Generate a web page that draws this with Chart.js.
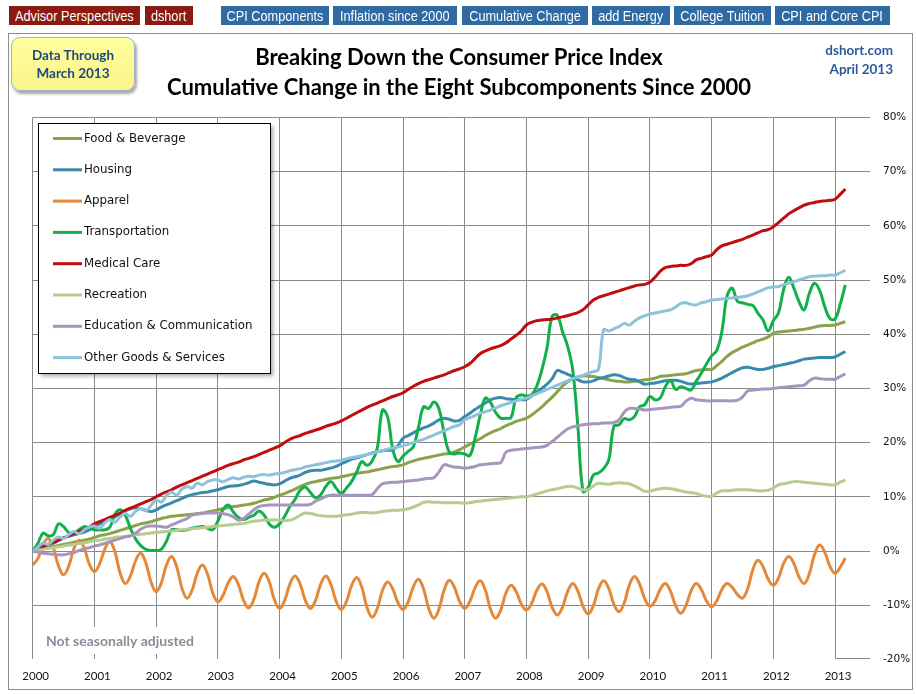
<!DOCTYPE html>
<html>
<head>
<meta charset="utf-8">
<script src="https://cdn.jsdelivr.net/npm/chart.js@4.4.1/dist/chart.umd.min.js"></script>
<style>
  body { margin: 0; background: #fff; }
  #wrap { position: relative; width: 916px; height: 694px; background: #fff; overflow: hidden; }
  #wrap canvas { position: absolute; left: 0; top: 0; }
  .btn { position: absolute; top: 6px; height: 19px; color: #fff; display: flex; justify-content: center; align-items: center;
         font-family: "Liberation Sans", Arial, sans-serif; font-size: 15.5px; white-space: nowrap; overflow: visible; }
  .btn span { display: inline-block; transform: scaleX(0.82); }
  .red { background: #8b1a10; }
  .blue { background: #2f6aa3; }
  #frame { position: absolute; left: 8px; top: 33px; width: 905px; height: 657px; border: 1px solid #8c8c8c; box-sizing: border-box; }
  #databox { position: absolute; left: 11px; top: 37px; width: 124px; height: 54px; border-radius: 9px;
             background: linear-gradient(#ffff9e, #fbf38a); border: 1px solid #9fb3cf; box-shadow: 2px 3px 3px rgba(0,0,0,0.35);
             color: #1f497d; font: bold 13.5px Lato, sans-serif; text-align: center; line-height: 18px; padding-top: 8px; box-sizing: border-box; }
  .title { position: absolute; left: 0; width: 918px; text-align: center; font: bold 22px Lato, sans-serif; color: #000; }
  .site { position: absolute; right: 23px; text-align: right; font: bold 13.5px Lato, sans-serif; color: #2a5b9f; }
</style>
</head>
<body>
<div id="wrap">
  <canvas id="cpi" width="916" height="694"></canvas>
  <div class="btn red" style="left:9px;width:131px"><span>Advisor Perspectives</span></div>
  <div class="btn red" style="left:145px;width:48px"><span>dshort</span></div>
  <div class="btn blue" style="left:221px;width:108px"><span>CPI Components</span></div>
  <div class="btn blue" style="left:333px;width:124px"><span>Inflation since 2000</span></div>
  <div class="btn blue" style="left:462px;width:126px"><span>Cumulative Change</span></div>
  <div class="btn blue" style="left:592px;width:78px"><span>add Energy</span></div>
  <div class="btn blue" style="left:674px;width:97px"><span>College Tuition</span></div>
  <div class="btn blue" style="left:775px;width:115px"><span>CPI and Core CPI</span></div>
  <div id="frame"></div>
  <div id="databox">Data Through<br>March 2013</div>
  <div class="title" style="top:43px">Breaking Down the Consumer Price Index</div>
  <div class="title" style="top:73px">Cumulative Change in the Eight Subcomponents Since 2000</div>
  <div class="site" style="top:42px">dshort.com</div>
  <div class="site" style="top:61px">April 2013</div>
</div>
<script>
// monthly values, Jan 2000 .. Mar 2013, cumulative % change
const yearLabels = ['2000','2001','2002','2003','2004','2005','2006','2007','2008','2009','2010','2011','2012','2013'];

const seriesNames = ['Food & Beverage', 'Housing', 'Apparel', 'Transportation', 'Medical Care',
  'Recreation', 'Education & Communication', 'Other Goods & Services'];

const foodBeverage = [
  0, 0.2, 0.4, 0.6, 0.8, 1.0, 1.2, 1.4, 1.6, 1.8, 2.0, 2.2,
  2.5, 2.8, 3.0, 3.2, 3.5, 3.8, 4.1, 4.4, 4.7, 5.0, 5.2, 5.4,
  5.7, 6.0, 6.2, 6.4, 6.5, 6.6, 6.7, 6.8, 6.9, 7.0, 7.2, 7.4,
  7.6, 7.8, 8.0, 8.2, 8.3, 8.5, 8.6, 8.8, 9.1, 9.4, 9.6, 9.9,
  10.3, 10.6, 11.0, 11.4, 11.9, 12.3, 12.6, 12.8, 13.0, 13.2, 13.4, 13.5,
  13.7, 13.9, 14.1, 14.3, 14.5, 14.6, 14.8, 15.0, 15.2, 15.4, 15.6, 15.7,
  15.9, 16.3, 16.6, 16.9, 17.1, 17.3, 17.5, 17.7, 17.9, 18.0, 18.3, 18.7,
  19.2, 19.7, 20.2, 20.7, 21.3, 21.8, 22.2, 22.6, 23.1, 23.5, 23.9, 24.2,
  24.5, 25.1, 25.8, 26.6, 27.5, 28.4, 29.4, 30.4, 31.2, 31.8, 32.1, 32.3,
  32.3, 32.2, 32.0, 31.8, 31.6, 31.4, 31.3, 31.2, 31.2, 31.3, 31.4, 31.6,
  31.7, 31.9, 32.2, 32.3, 32.4, 32.5, 32.6, 32.7, 33.0, 33.3, 33.4, 33.5,
  33.5, 34.2, 35.0, 35.9, 36.6, 37.1, 37.6, 38.0, 38.4, 38.8, 39.1, 39.5,
  40.2, 40.4, 40.5, 40.6, 40.7, 40.8, 40.9, 41.1, 41.3, 41.5, 41.6, 41.6,
  41.7, 42.0, 42.3
];

const housing = [
  0, 0.4, 0.8, 1.1, 1.4, 1.9, 2.4, 2.7, 3.0, 3.2, 3.5, 3.9,
  4.5, 5.0, 5.5, 5.9, 6.3, 6.9, 7.4, 7.8, 8.0, 7.8, 7.5, 7.3,
  7.6, 8.1, 8.5, 8.9, 9.3, 9.7, 10.1, 10.4, 10.6, 10.8, 10.9, 11.1,
  11.3, 11.6, 11.9, 12.0, 12.1, 12.3, 12.6, 12.9, 12.7, 12.5, 12.3, 12.2,
  12.4, 12.9, 13.4, 13.7, 14.0, 14.5, 14.8, 14.9, 14.9, 15.1, 15.3, 15.6,
  16.1, 16.5, 16.9, 17.2, 17.5, 17.8, 18.1, 18.3, 18.5, 18.6, 18.7, 19.4,
  20.8, 21.3, 21.8, 22.3, 22.7, 23.1, 23.6, 24.2, 24.5, 24.3, 24.0, 24.1,
  24.8, 25.4, 26.1, 26.7, 27.3, 27.9, 28.2, 28.3, 28.1, 28.0, 27.9, 27.9,
  28.0, 28.6, 29.3, 30.0, 30.8, 31.8, 33.3, 33.0, 32.6, 32.2, 31.6, 31.2,
  31.2, 31.4, 31.8, 32.0, 32.3, 32.5, 32.4, 32.0, 31.7, 31.6, 31.2, 30.8,
  30.9, 31.0, 31.2, 31.4, 31.5, 31.5, 31.3, 31.0, 30.8, 30.9, 31.0, 31.1,
  31.2, 31.5, 31.9, 32.4, 32.9, 33.4, 33.8, 33.9, 33.7, 33.5, 33.5, 33.7,
  34.0, 34.2, 34.4, 34.6, 34.8, 35.1, 35.4, 35.5, 35.6, 35.7, 35.7, 35.7,
  35.8, 36.3, 36.8
];

const apparel = [
  -2.6, -1.4, 1.1, 2.3, 0.6, -2.7, -4.4, -2.8, 0.4, 2.0, 0.6, -2.4,
  -3.8, -2.4, 0.3, 1.7, -0.2, -4.1, -6.0, -4.6, -1.8, -0.4, -2.2, -5.7,
  -7.5, -5.9, -2.6, -1.0, -2.9, -6.8, -8.7, -7.2, -4.1, -2.6, -4.3, -7.7,
  -9.4, -8.2, -5.9, -4.7, -6.2, -9.1, -10.5, -8.9, -5.7, -4.1, -5.7, -9.0,
  -10.6, -9.1, -6.1, -4.6, -6.1, -9.1, -10.6, -9.1, -6.1, -4.6, -6.2, -9.3,
  -10.8, -9.3, -6.4, -4.9, -6.7, -10.4, -12.2, -10.6, -7.3, -5.7, -7.0, -9.5,
  -10.8, -9.4, -6.6, -5.2, -7.0, -10.6, -12.4, -10.7, -7.2, -5.4, -6.7, -9.3,
  -10.6, -9.3, -6.8, -5.5, -7.2, -10.7, -12.4, -10.9, -7.8, -6.3, -7.5, -9.8,
  -10.9, -9.7, -7.3, -6.1, -7.5, -10.4, -11.8, -10.4, -7.5, -6.0, -7.4, -10.2,
  -11.6, -10.1, -7.0, -5.5, -6.9, -9.8, -11.2, -9.6, -6.3, -4.7, -6.1, -8.8,
  -10.2, -9.2, -7.1, -6.0, -7.4, -10.1, -11.5, -10.1, -7.4, -6.0, -7.1, -9.2,
  -10.3, -9.2, -7.1, -6.0, -6.7, -8.0, -8.7, -7.0, -3.5, -1.7, -2.9, -5.2,
  -6.3, -5.0, -2.3, -1.0, -2.3, -4.8, -6.0, -4.2, -0.7, 1.1, -0.2, -2.8,
  -4.1, -3.0, -1.3
];

const transportation = [
  0, 1.4, 3.3, 2.8, 3.0, 5.0, 4.5, 3.4, 3.3, 3.9, 4.5, 4.2,
  3.9, 3.9, 3.9, 4.4, 6.8, 7.6, 6.6, 4.2, 2.2, 1.0, 0.3, 0.1,
  0.1, 0.3, 1.8, 3.9, 3.9, 3.8, 3.9, 4.2, 4.4, 4.5, 4.2, 3.9,
  5.5, 7.6, 8.5, 7.2, 6.2, 5.8, 6.2, 6.6, 7.4, 6.6, 5.0, 4.4,
  5.0, 6.4, 8.2, 9.5, 11.2, 11.8, 10.8, 9.8, 10.4, 11.9, 12.8, 11.6,
  10.6, 11.6, 12.8, 14.6, 16.5, 15.8, 16.6, 19.0, 26.0, 24.8, 18.8, 16.5,
  17.5, 18.4, 19.2, 22.8, 26.6, 26.3, 27.5, 26.2, 21.7, 18.2, 17.9, 18.1,
  17.9, 17.6, 20.8, 25.0, 28.2, 27.4, 25.6, 24.5, 24.5, 24.6, 28.3, 28.8,
  28.6, 28.8, 30.4, 33.4, 37.5, 43.3, 43.5, 40.5, 37.8, 33.4, 23.0, 11.0,
  11.7, 14.0, 14.4, 15.2, 16.8, 23.0, 23.3, 24.4, 24.2, 24.8, 26.6, 27.0,
  28.5, 27.9, 28.2, 30.3, 31.4, 29.8, 30.3, 30.0, 29.7, 31.3, 32.8, 34.5,
  36.0, 37.0, 40.5, 47.0, 48.5, 46.1, 45.8, 45.5, 45.3, 43.9, 42.6, 40.6,
  42.5, 43.9, 48.2, 50.5, 48.5, 46.0, 44.5, 47.5, 49.4, 48.1, 45.1, 42.9,
  42.8, 45.5, 49.1
];

const medicalCare = [
  0, 0.4, 0.8, 1.2, 1.6, 2.0, 2.4, 2.8, 3.2, 3.6, 4.0, 4.4,
  5.0, 5.4, 5.8, 6.2, 6.6, 7.0, 7.5, 7.9, 8.3, 8.7, 9.1, 9.5,
  10.0, 10.5, 10.9, 11.3, 11.8, 12.2, 12.6, 13.0, 13.4, 13.8, 14.2, 14.6,
  15.0, 15.4, 15.8, 16.1, 16.4, 16.8, 17.1, 17.4, 17.8, 18.2, 18.6, 19.0,
  19.4, 20.0, 20.6, 21.0, 21.3, 21.7, 22.0, 22.3, 22.6, 23.0, 23.3, 23.6,
  24.0, 24.5, 25.0, 25.5, 26.0, 26.5, 26.9, 27.3, 27.7, 28.1, 28.5, 28.8,
  29.2, 29.8, 30.4, 30.9, 31.3, 31.6, 31.9, 32.2, 32.5, 32.9, 33.3, 33.6,
  34.0, 34.6, 35.5, 36.4, 36.9, 37.3, 37.6, 37.9, 38.4, 39.1, 39.8, 40.6,
  41.7, 42.2, 42.5, 42.6, 42.7, 42.8, 43.0, 43.2, 43.4, 43.7, 44.0, 44.5,
  45.4, 46.3, 46.8, 47.1, 47.4, 47.7, 48.0, 48.3, 48.6, 48.9, 49.1, 49.2,
  49.6, 50.5, 51.6, 52.3, 52.5, 52.6, 52.7, 52.7, 53.0, 53.7, 54.0, 54.3,
  54.6, 55.6, 56.3, 56.6, 56.9, 57.2, 57.5, 57.9, 58.3, 58.7, 59.1, 59.3,
  59.8, 60.6, 61.4, 62.2, 62.8, 63.3, 63.8, 64.1, 64.3, 64.5, 64.6, 64.7,
  64.9, 65.8, 66.8
];

const recreation = [
  0, 0.2, 0.3, 0.5, 0.6, 0.8, 0.9, 1.1, 1.2, 1.4, 1.5, 1.7,
  1.9, 2.0, 2.2, 2.3, 2.5, 2.6, 2.7, 2.8, 3.0, 3.1, 3.2, 3.3,
  3.4, 3.5, 3.6, 3.7, 3.8, 3.9, 4.0, 4.1, 4.2, 4.3, 4.4, 4.5,
  4.6, 4.7, 4.8, 4.9, 5.0, 5.1, 5.3, 5.5, 5.6, 5.7, 5.7, 5.7,
  5.7, 5.6, 5.7, 6.0, 6.6, 7.0, 6.9, 6.7, 6.5, 6.4, 6.4, 6.4,
  6.5, 6.7, 6.8, 7.0, 7.1, 7.1, 7.0, 7.1, 7.3, 7.4, 7.5, 7.5,
  7.6, 7.8, 8.1, 8.5, 9.0, 9.1, 9.0, 9.0, 8.9, 8.9, 8.9, 8.9,
  8.8, 8.9, 9.1, 9.2, 9.3, 9.4, 9.5, 9.6, 9.7, 9.8, 9.9, 10.0,
  10.0, 10.2, 10.5, 10.8, 11.1, 11.3, 11.5, 11.7, 11.9, 11.9, 11.6, 11.3,
  11.3, 12.0, 12.5, 12.4, 12.3, 12.5, 12.6, 12.5, 12.4, 12.0, 11.5, 11.0,
  11.1, 11.3, 11.5, 11.6, 11.5, 11.3, 11.1, 10.9, 10.8, 10.6, 10.3, 10.1,
  10.1, 10.7, 11.1, 11.1, 11.2, 11.3, 11.3, 11.3, 11.2, 11.1, 11.1, 11.2,
  11.6, 12.2, 12.4, 12.6, 12.8, 12.8, 12.7, 12.6, 12.5, 12.4, 12.3, 12.2,
  12.2, 12.7, 13.1
];

const educationComm = [
  0, -0.2, -0.4, -0.5, -0.6, -0.7, -0.7, -0.5, -0.3, 0.1, 0.4, 0.6,
  0.9, 1.1, 1.4, 1.7, 2.0, 2.3, 2.6, 2.8, 3.3, 4.0, 4.5, 4.6,
  4.6, 4.5, 4.4, 4.8, 5.2, 5.6, 6.0, 6.6, 6.8, 6.9, 7.0, 7.0,
  7.0, 6.9, 6.7, 6.3, 5.7, 6.0, 6.8, 7.6, 8.2, 8.4, 8.5, 8.5,
  8.5, 8.5, 8.5, 8.5, 8.5, 8.5, 8.6, 9.2, 9.6, 10.1, 10.3, 10.3,
  10.3, 10.3, 10.3, 10.3, 10.3, 10.3, 10.4, 11.5, 12.4, 12.6, 12.7, 12.7,
  12.8, 12.9, 13.0, 13.1, 13.3, 13.4, 13.5, 14.6, 15.9, 15.7, 15.5, 15.4,
  15.3, 15.4, 15.6, 15.9, 16.0, 16.1, 16.2, 16.3, 18.2, 18.6, 18.7, 18.8,
  18.9, 19.0, 19.1, 19.2, 19.5, 20.2, 21.0, 21.8, 22.5, 22.9, 23.1, 23.3,
  23.4, 23.5, 23.5, 23.6, 23.6, 23.7, 24.2, 25.6, 26.3, 26.3, 26.2, 26.0,
  26.1, 26.2, 26.3, 26.4, 26.5, 26.6, 26.7, 27.6, 28.2, 27.9, 27.8, 27.7,
  27.7, 27.7, 27.7, 27.7, 27.7, 27.8, 28.4, 29.5, 29.7, 29.8, 29.9, 29.9,
  30.0, 30.1, 30.2, 30.3, 30.4, 30.5, 30.6, 31.4, 31.9, 31.8, 31.7, 31.7,
  31.7, 32.2, 32.7
];

const otherGoods = [
  0, 0.7, 1.5, 1.2, 2.0, 2.6, 2.3, 3.0, 3.6, 3.2, 3.9, 4.4,
  4.6, 4.2, 5.2, 5.8, 5.3, 6.3, 6.9, 6.4, 7.3, 7.9, 7.4, 8.4,
  9.4, 9.0, 10.2, 10.9, 10.3, 11.4, 11.9, 11.6, 12.5, 12.2, 12.8, 13.1,
  13.1, 12.8, 13.2, 13.5, 13.3, 13.6, 13.8, 13.7, 14.0, 14.1, 14.0, 14.2,
  14.3, 14.5, 14.8, 15.0, 15.2, 15.5, 15.7, 15.9, 16.1, 16.3, 16.5, 16.6,
  16.8, 17.0, 17.2, 17.4, 17.6, 17.8, 18.0, 18.3, 18.5, 18.8, 19.0, 19.2,
  19.4, 19.7, 20.0, 20.3, 20.6, 21.0, 21.4, 21.8, 22.2, 22.6, 23.0, 23.3,
  24.2, 24.6, 25.0, 25.4, 25.7, 26.0, 26.4, 26.8, 27.1, 27.4, 27.7, 28.0,
  28.2, 28.6, 29.0, 29.4, 29.8, 30.2, 30.6, 31.0, 31.4, 31.8, 32.1, 32.4,
  32.8, 33.1, 33.5, 40.8, 40.6, 41.0, 41.4, 42.0, 41.7, 42.4, 43.0, 43.4,
  43.7, 43.9, 44.1, 44.3, 44.5, 45.0, 45.7, 45.8, 45.5, 45.4, 45.8, 46.0,
  46.3, 46.4, 46.5, 46.6, 46.7, 46.8, 46.9, 47.1, 47.4, 47.8, 48.2, 48.6,
  48.7, 48.8, 49.1, 49.4, 49.7, 50.0, 50.3, 50.6, 50.7, 50.8, 50.8, 50.9,
  50.9, 51.3, 51.8
];

const seriesValues = [foodBeverage, housing, apparel, transportation, medicalCare,
  recreation, educationComm, otherGoods];
const seriesColors = ['#8aa24a', '#3a8bab', '#e3893a', '#12b04c', '#c00d0d',
  '#b6cc91', '#a795bd', '#8cc3da'];

const gridColor = '#8a8a8a';

// legend box in the upper left corner
const legendBox = {
  id: 'legendBox',
  afterDatasetsDraw(chart) {
    const ctx = chart.ctx;
    const x = 38, y = 123, w = 232, h = 250;
    ctx.save();
    ctx.shadowColor = 'rgba(0,0,0,0.35)';
    ctx.shadowBlur = 4;
    ctx.shadowOffsetX = 3;
    ctx.shadowOffsetY = 3;
    ctx.fillStyle = '#fff';
    ctx.fillRect(x, y, w, h);
    ctx.restore();
    ctx.save();
    ctx.strokeStyle = '#000';
    ctx.lineWidth = 1;
    ctx.strokeRect(x + 0.5, y + 0.5, w, h);
    ctx.font = '11.8px "DejaVu Sans", sans-serif';
    ctx.textBaseline = 'middle';
    chart.data.datasets.forEach((ds, i) => {
      const ry = 138.5 + i * 31.3;
      ctx.strokeStyle = ds.borderColor;
      ctx.lineWidth = 3;
      ctx.beginPath();
      ctx.moveTo(53, ry);
      ctx.lineTo(82, ry);
      ctx.stroke();
      ctx.fillStyle = '#111';
      ctx.fillText(ds.label, 84, ry);
    });
    ctx.restore();
  }
};

// "Not seasonally adjusted" note, plus the short piece of the -20% line at the right end
const noteBox = {
  id: 'noteBox',
  beforeDatasetsDraw(chart) {
    const ctx = chart.ctx;
    const { x, y } = chart.scales;
    ctx.save();
    ctx.strokeStyle = gridColor;
    ctx.lineWidth = 1;
    const by = Math.round(y.getPixelForValue(-20)) - 0.5;
    ctx.beginPath();
    ctx.moveTo(x.getPixelForValue(156), by);
    ctx.lineTo(chart.chartArea.right, by);
    ctx.stroke();
    ctx.fillStyle = '#fff';
    ctx.fillRect(40, 627, 160, 27);
    ctx.font = 'bold 14px Lato, sans-serif';
    ctx.fillStyle = '#8a8d98';
    ctx.textBaseline = 'middle';
    ctx.fillText('Not seasonally adjusted', 46, 641);
    ctx.restore();
  }
};

new Chart(document.getElementById('cpi'), {
  type: 'line',
  data: {
    datasets: seriesNames.map((name, i) => ({
      label: name,
      data: seriesValues[i].map((v, m) => ({ x: m, y: v })),
      borderColor: seriesColors[i],
      backgroundColor: seriesColors[i],
      borderWidth: 3,
      pointRadius: 0,
      tension: 0.4,
      fill: false,
      order: seriesNames.length - i
    }))
  },
  options: {
    responsive: false,
    animation: false,
    layout: { padding: { left: 32.7, top: 117.4, right: 0, bottom: 0 } },
    scales: {
      x: {
        type: 'linear',
        min: 0,
        max: 162.8,
        afterFit(scale) { scale.height = 34.6; },
        afterBuildTicks(scale) {
          scale.ticks = yearLabels.map((y, i) => ({ value: i * 12 }));
        },
        grid: { color: gridColor, lineWidth: 1, drawTicks: false },
        border: { display: false },
        ticks: {
          padding: 10,
          labelOffset: 3,
          maxRotation: 0,
          autoSkip: false,
          color: '#111',
          font: { family: 'Lato', size: 11.5 },
          callback: (v) => yearLabels[Math.round(v / 12)]
        }
      },
      y: {
        position: 'right',
        min: -20,
        max: 80,
        afterFit(scale) { scale.width = 46; },
        grid: {
          color: (c) => (c.tick && c.tick.value === -20) ? 'rgba(0,0,0,0)' : gridColor,
          lineWidth: 1,
          drawTicks: false
        },
        border: { display: false },
        ticks: {
          stepSize: 10,
          padding: 13,
          color: '#111',
          font: { family: 'DejaVu Sans', size: 10.5 },
          callback: (v) => v + '%'
        }
      }
    },
    plugins: {
      legend: { display: false },
      tooltip: { enabled: false }
    }
  },
  plugins: [noteBox, legendBox]
});
</script>
</body>
</html>
